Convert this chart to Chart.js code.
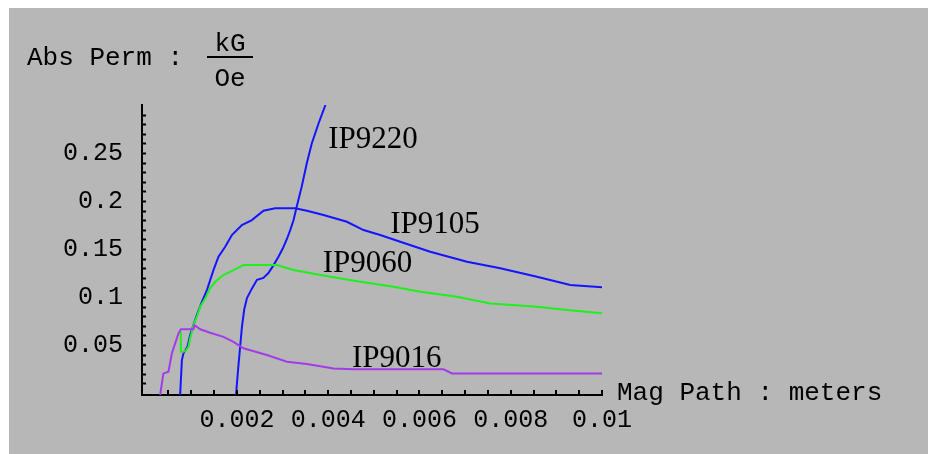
<!DOCTYPE html>
<html>
<head>
<meta charset="utf-8">
<script src="https://cdn.jsdelivr.net/npm/chart.js@4"></script>
<style>
    html, body { margin: 0; padding: 0; background: #fff; }
</style>
</head>
<body>
<canvas id="permChart" width="928" height="454"></canvas>
<script>
// values (x: meters, y: kG/Oe)
const ip9220X = [0.00198, 0.00203, 0.00207, 0.00211, 0.00216, 0.00222, 0.00233, 0.00244, 0.00258, 0.00269, 0.00280,
    0.00291, 0.00301, 0.00310, 0.00317, 0.00324, 0.00331, 0.00342, 0.00353, 0.00364, 0.00379, 0.00394];
const ip9220Y = [-0.002, 0.027, 0.048, 0.069, 0.087, 0.099, 0.109, 0.118, 0.120, 0.125, 0.133,
    0.142, 0.151, 0.161, 0.170, 0.180, 0.194, 0.215, 0.239, 0.260, 0.281, 0.300];

const ip9105X = [0.000756, 0.000794, 0.000829, 0.000916, 0.000975, 0.001048, 0.001122, 0.001232, 0.001342, 0.001486,
    0.001596, 0.001743, 0.00189, 0.002109, 0.002328, 0.002582, 0.002839, 0.003277, 0.003534, 0.003897,
    0.00441, 0.004774, 0.00514, 0.005579, 0.006236, 0.007041, 0.007771, 0.008575, 0.009305, 0.01];
const ip9105Y = [-0.002, 0.0344, 0.0414, 0.0482, 0.0604, 0.0708, 0.0813, 0.0951, 0.1073, 0.1281,
    0.142, 0.1524, 0.1646, 0.175, 0.1802, 0.1899, 0.1924, 0.1924, 0.1899, 0.1854,
    0.1784, 0.1698, 0.1646, 0.1576, 0.1472, 0.1368, 0.1299, 0.1211, 0.1125, 0.1101];

const ip9060X = [0.000772, 0.000772, 0.000829, 0.000888, 0.000938, 0.000975, 0.001013, 0.001048, 0.001122, 0.001195,
    0.001304, 0.001414, 0.001523, 0.001705, 0.001925, 0.002144, 0.002876, 0.00324, 0.004044, 0.004702,
    0.005432, 0.006017, 0.006822, 0.007552, 0.008575, 0.009233, 0.01];
const ip9060Y = [0.0639, 0.043, 0.043, 0.0448, 0.0482, 0.057, 0.0639, 0.0708, 0.0795, 0.0899,
    0.0986, 0.1091, 0.1159, 0.1229, 0.1281, 0.1333, 0.1333, 0.1281, 0.1211, 0.1159,
    0.1107, 0.1055, 0.1003, 0.0934, 0.0899, 0.0865, 0.083];

const ip9016X = [0.000318, 0.000355, 0.00039, 0.0005, 0.000574, 0.000647, 0.000719, 0.000772, 0.001048, 0.00107,
    0.001195, 0.001414, 0.001705, 0.001925, 0.002144, 0.002657, 0.003095, 0.003534, 0.004117, 0.004555,
    0.006528, 0.006712, 0.01];
const ip9016Y = [-0.002, 0.0101, 0.0205, 0.0222, 0.0414, 0.0518, 0.0622, 0.0664, 0.0664, 0.0708,
    0.0664, 0.0628, 0.0586, 0.0534, 0.0466, 0.0396, 0.0326, 0.0302, 0.0257, 0.0247,
    0.0247, 0.0205, 0.0205];

const xTickValues = [0.002, 0.004, 0.006, 0.008, 0.01];
const xTickLabels = ['0.002', '0.004', '0.006', '0.008', '0.01'];
const yTickValues = [0.05, 0.1, 0.15, 0.2, 0.25];
const yTickLabels = ['0.05', '0.1', '0.15', '0.2', '0.25'];

// curve name tags, anchored in data units (left edge, baseline)
const curveNames = ['IP9220', 'IP9105', 'IP9060', 'IP9016'];
const curveNameX = [0.0040, 0.00536, 0.00388, 0.00452];
const curveNameY = [0.2552, 0.1667, 0.1264, 0.0274];

const toPoints = (xs, ys) => xs.map((x, i) => ({ x: x, y: ys[i] }));

const monoFont = 'Liberation Mono, DejaVu Sans Mono, monospace';

const framePlugin = {
    id: 'frame',
    beforeDraw(chart) {
        const c = chart.ctx;
        c.save();
        c.fillStyle = '#fff';
        c.fillRect(0, 0, chart.width, chart.height);
        c.fillStyle = '#b7b7b7';
        c.fillRect(9, 8, chart.width - 9, chart.height - 8);
        c.restore();
    },
    afterDraw(chart) {
        const c = chart.ctx;
        const xs = chart.scales.x;
        const ys = chart.scales.y;
        const area = chart.chartArea;
        c.save();
        // inward minor ticks
        c.strokeStyle = '#000';
        c.lineWidth = 2;
        c.beginPath();
        for (let k = 1; k <= 29; k++) {
            const py = Math.round(ys.getPixelForValue(k / 100)) + 0.5;
            c.moveTo(area.left, py);
            c.lineTo(area.left + 4, py);
        }
        for (let k = 1; k <= 20; k++) {
            const px = Math.round(xs.getPixelForValue(k * 0.0005));
            c.moveTo(px, area.bottom);
            c.lineTo(px, area.bottom - 5);
        }
        c.stroke();

        // axis titles
        c.fillStyle = '#000';
        c.font = '26px ' + monoFont;
        c.textBaseline = 'alphabetic';
        c.textAlign = 'left';
        c.fillText('Abs Perm :', 27, 65);
        c.fillText('Mag Path : meters', 617, 400);
        c.textAlign = 'center';
        c.fillText('kG', 230, 51);
        c.fillText('Oe', 230, 86);
        c.fillRect(207, 56, 46, 2);

        // curve names
        c.font = '31px Liberation Serif, DejaVu Serif, serif';
        c.textAlign = 'left';
        curveNames.forEach((name, i) => {
            c.fillText(name, xs.getPixelForValue(curveNameX[i]), ys.getPixelForValue(curveNameY[i]));
        });
        c.restore();
    }
};

const ctx = document.getElementById('permChart').getContext('2d');
const chart = new Chart(ctx, {
    type: 'line',
    data: {
        datasets: [
            { label: 'IP9016', data: toPoints(ip9016X, ip9016Y), borderColor: '#a33ce8' },
            { label: 'IP9060', data: toPoints(ip9060X, ip9060Y), borderColor: '#1ef01e' },
            { label: 'IP9105', data: toPoints(ip9105X, ip9105Y), borderColor: '#1414ff' },
            { label: 'IP9220', data: toPoints(ip9220X, ip9220Y), borderColor: '#1414ff' }
        ]
    },
    options: {
        responsive: false,
        animation: false,
        devicePixelRatio: 1,
        layout: { padding: { left: 0, right: 326, top: 105, bottom: 0 } },
        elements: {
            line: { borderWidth: 2, tension: 0, fill: false },
            point: { radius: 0 }
        },
        plugins: {
            legend: { display: false },
            tooltip: { enabled: false }
        },
        scales: {
            x: {
                type: 'linear',
                position: 'bottom',
                min: -0.00008,
                max: 0.01,
                grid: { display: false, drawTicks: false },
                border: { display: true, color: '#000', width: 2 },
                afterBuildTicks: s => { s.ticks = xTickValues.map(v => ({ value: v })); },
                afterFit: s => { s.height = 59; },
                ticks: {
                    color: '#000',
                    font: { family: monoFont, size: 25 },
                    padding: 10,
                    maxRotation: 0,
                    autoSkip: false,
                    callback: (v, i) => xTickLabels[i]
                }
            },
            y: {
                type: 'linear',
                position: 'left',
                min: -0.002,
                max: 0.3,
                grid: { display: false, drawTicks: false },
                border: { display: true, color: '#000', width: 2 },
                afterBuildTicks: s => { s.ticks = yTickValues.map(v => ({ value: v })); },
                afterFit: s => { s.width = 142; },
                ticks: {
                    color: '#000',
                    font: { family: monoFont, size: 25 },
                    padding: 19,
                    autoSkip: false,
                    callback: (v, i) => yTickLabels[i]
                }
            }
        }
    },
    plugins: [framePlugin]
});
</script>
</body>
</html>
